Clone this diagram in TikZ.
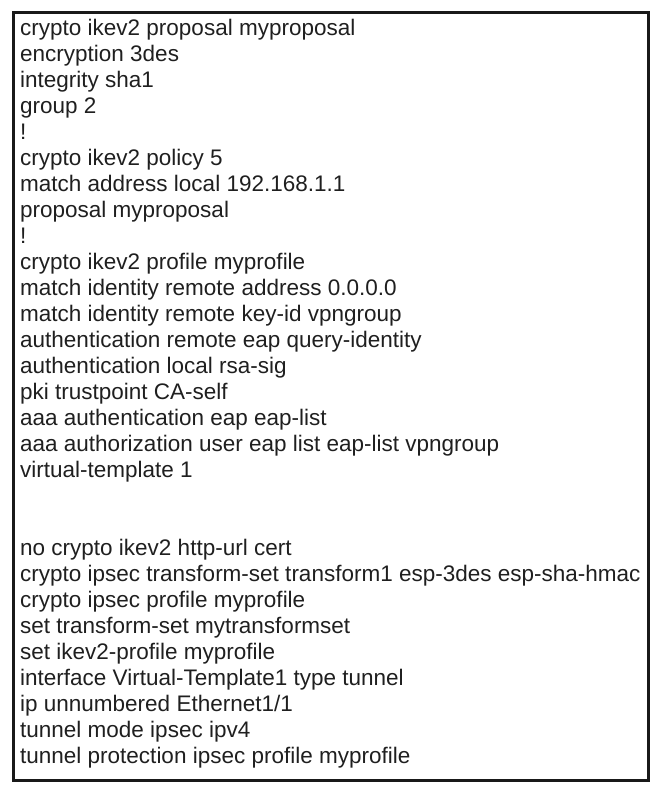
\documentclass[tikz,border=0pt]{standalone}
\usepackage{fontspec}
\setmainfont{Liberation Sans}
\begin{document}
\begin{tikzpicture}[x=1pt,y=-1pt,
  cfg/.style={anchor=base west,inner sep=0pt,font=\fontsize{22.5}{26}\selectfont,text=black!88}]
\useasboundingbox (0,0) rectangle (652,785);
\node[draw=black!90,line width=3pt,minimum width=635pt,minimum height=767.5pt,anchor=north west,inner sep=0pt] (frame) at (11.5,11) {};
\foreach \t [count=\i] in {
crypto ikev2 proposal myproposal,
encryption 3des,
integrity sha1,
group 2,
!,
crypto ikev2 policy 5,
match address local 192.168.1.1,
proposal myproposal,
!,
crypto ikev2 profile myprofile,
match identity remote address 0.0.0.0,
match identity remote key-id vpngroup,
authentication remote eap query-identity,
authentication local rsa-sig,
pki trustpoint CA-self,
aaa authentication eap eap-list,
aaa authorization user eap list eap-list vpngroup,
virtual-template 1,
{},
{},
no crypto ikev2 http-url cert,
crypto ipsec transform-set transform1 esp-3des esp-sha-hmac,
crypto ipsec profile myprofile,
set transform-set mytransformset,
set ikev2-profile myprofile,
interface Virtual-Template1 type tunnel,
ip unnumbered Ethernet1/1,
tunnel mode ipsec ipv4,
tunnel protection ipsec profile myprofile}
{\node[cfg] (l\i) at (20,{35+26*(\i-1)}) {\t};}
\end{tikzpicture}
\end{document}
